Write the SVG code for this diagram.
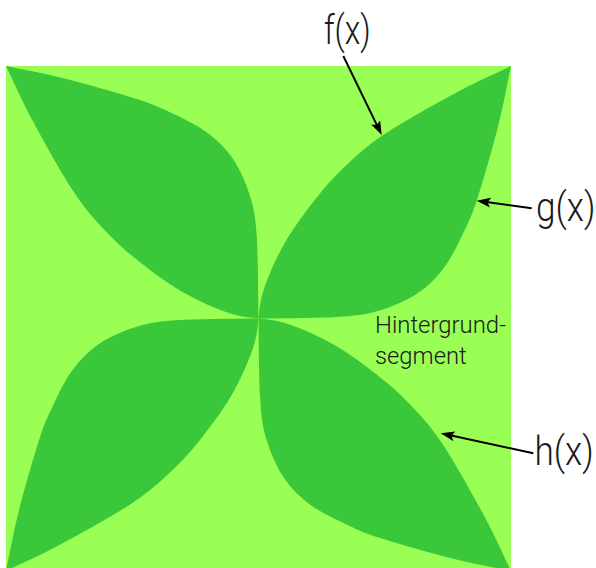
<svg xmlns="http://www.w3.org/2000/svg" width="596" height="568" viewBox="0 0 596 568">
  <style>
    .bg { fill: #99FF55; }
    .leaf { fill: #3AC83A; }
    .lbl { font-family: Roboto, "Liberation Sans", Arial, sans-serif; font-weight: 300; fill: #1a1a1a; }
    .big { font-size: 40px; }
    .small { font-size: 23px; }
    .arrow { stroke: #000; stroke-width: 2; fill: none; marker-end: url(#ah); }
  </style>
  <defs>
    <marker id="ah" markerUnits="userSpaceOnUse" markerWidth="16" markerHeight="12" refX="8" refY="5" orient="auto">
      <path d="M0,0 L14,5 L0,10 L3,5 Z" fill="#000"/>
    </marker>
    <path id="leafTR" d="M258.5,318.5 C259.5,307.95 260.3,299.3 264.7,286.7 C269.1,274.1 276.4,257.45 284.7,243 C293,228.55 304.7,212.7 314.7,200 C324.7,187.3 333,177.7 344.7,166.7 C356.4,155.7 365.8,146.5 384.7,134 C403.6,121.5 436.95,103 458,91.7 C479.05,80.4 493.3,74.6 511,66 C506.7,86.2 503.5,104.9 498,126.7 C492.5,148.5 483.5,179.5 478,196.7 C472.5,213.9 470.2,218.3 464.7,230 C459.2,241.7 452.5,256.2 444.7,266.7 C436.9,277.2 428.6,285.8 418,293 C407.4,300.2 393.8,306.05 381,310 C368.2,313.95 361.4,315.3 341,316.7 C320.6,318.1 286,318.2 258.5,318.5 Z"/>
  </defs>
  <g id="background">
    <rect class="bg" x="6" y="66" width="505" height="505"/>
  </g>
  <g id="leaves" class="leaf">
    <use id="leaf-top-right" href="#leafTR"/>
    <use id="leaf-bottom-right" href="#leafTR" transform="rotate(90 258.5 318.5)"/>
    <use id="leaf-bottom-left" href="#leafTR" transform="rotate(180 258.5 318.5)"/>
    <use id="leaf-top-left" href="#leafTR" transform="rotate(270 258.5 318.5)"/>
  </g>
  <g id="connectors">
    <line class="arrow" x1="343.3" y1="56" x2="379.1" y2="129.6"/>
    <line class="arrow" x1="531.7" y1="208.3" x2="482.6" y2="201.5"/>
    <line class="arrow" x1="533.3" y1="453.3" x2="446.6" y2="434.6"/>
  </g>
  <g id="label-f">
    <text class="lbl big" x="324" y="44" textLength="46.7" lengthAdjust="spacingAndGlyphs">f(x)</text>
  </g>
  <g id="label-g">
    <text class="lbl big" transform="translate(536 221) scale(0.88 1)">g(x)</text>
  </g>
  <g id="label-h">
    <text class="lbl big" transform="translate(534.5 465) scale(0.88 1)">h(x)</text>
  </g>
  <g id="label-segment">
    <text class="lbl small" x="375" y="333.3" textLength="131" lengthAdjust="spacingAndGlyphs">Hintergrund-</text>
    <text class="lbl small" x="375" y="363.5" textLength="91.7" lengthAdjust="spacingAndGlyphs">segment</text>
  </g>
</svg>
